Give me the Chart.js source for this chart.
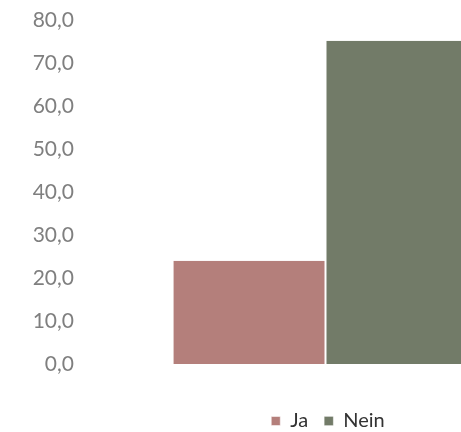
<!DOCTYPE html>
<html>
<head>
<meta charset="utf-8">
<script src="https://cdn.jsdelivr.net/npm/chart.js@4/dist/chart.umd.min.js"></script>
<style>
  html, body { margin: 0; padding: 0; background: #ffffff; overflow: hidden; }
  #wrap { position: relative; width: 656px; height: 441px; }
</style>
</head>
<body>
<div id="wrap"><canvas id="chart"></canvas></div>
<script>
// Antworten in Prozent
const categories = [''];
const seriesNames = ['Ja', 'Nein'];
const jaValues = [24.0];
const neinValues = [75.2];
const yTicks = [0, 10, 20, 30, 40, 50, 60, 70, 80];

const fmt = v => v.toFixed(1).replace('.', ',');

new Chart(document.getElementById('chart'), {
  type: 'bar',
  data: {
    labels: categories,
    datasets: [
      { label: seriesNames[0], data: jaValues, backgroundColor: '#b47f7b', borderColor: '#ffffff', borderWidth: { left: 1, right: 1, top: 0, bottom: 0 } },
      { label: seriesNames[1], data: neinValues, backgroundColor: '#727b68', borderColor: '#ffffff', borderWidth: { left: 1, right: 0, top: 0, bottom: 0 } }
    ]
  },
  options: {
    responsive: true,
    maintainAspectRatio: false,
    animation: false,
    layout: { padding: { top: 20, right: 0, left: 0, bottom: 0 } },
    datasets: { bar: { categoryPercentage: 0.628, barPercentage: 1.0 } },
    scales: {
      x: {
        grid: { display: false },
        border: { display: false },
        ticks: { display: false },
        afterFit: s => { s.height = 31; }
      },
      y: {
        min: 0,
        max: 80,
        afterBuildTicks: s => { s.ticks = yTicks.map(v => ({ value: v })); },
        grid: { display: false },
        border: { display: false },
        ticks: {
          padding: 0,
          color: '#7f7f7f',
          font: { family: 'Lato', size: 21 },
          callback: v => fmt(v)
        },
        afterFit: s => { s.width = 82; }
      },
      // empty right-hand margin beside the plot
      yRight: {
        position: 'right',
        grid: { display: false },
        border: { display: false },
        ticks: { display: false },
        afterFit: s => { s.width = 87; }
      }
    },
    plugins: {
      tooltip: { enabled: false },
      legend: {
        position: 'bottom',
        labels: {
          boxWidth: 9,
          boxHeight: 9,
          padding: 16,
          color: '#333333',
          font: { family: 'Lato', size: 20 }
        }
      }
    }
  }
});
</script>
</body>
</html>
